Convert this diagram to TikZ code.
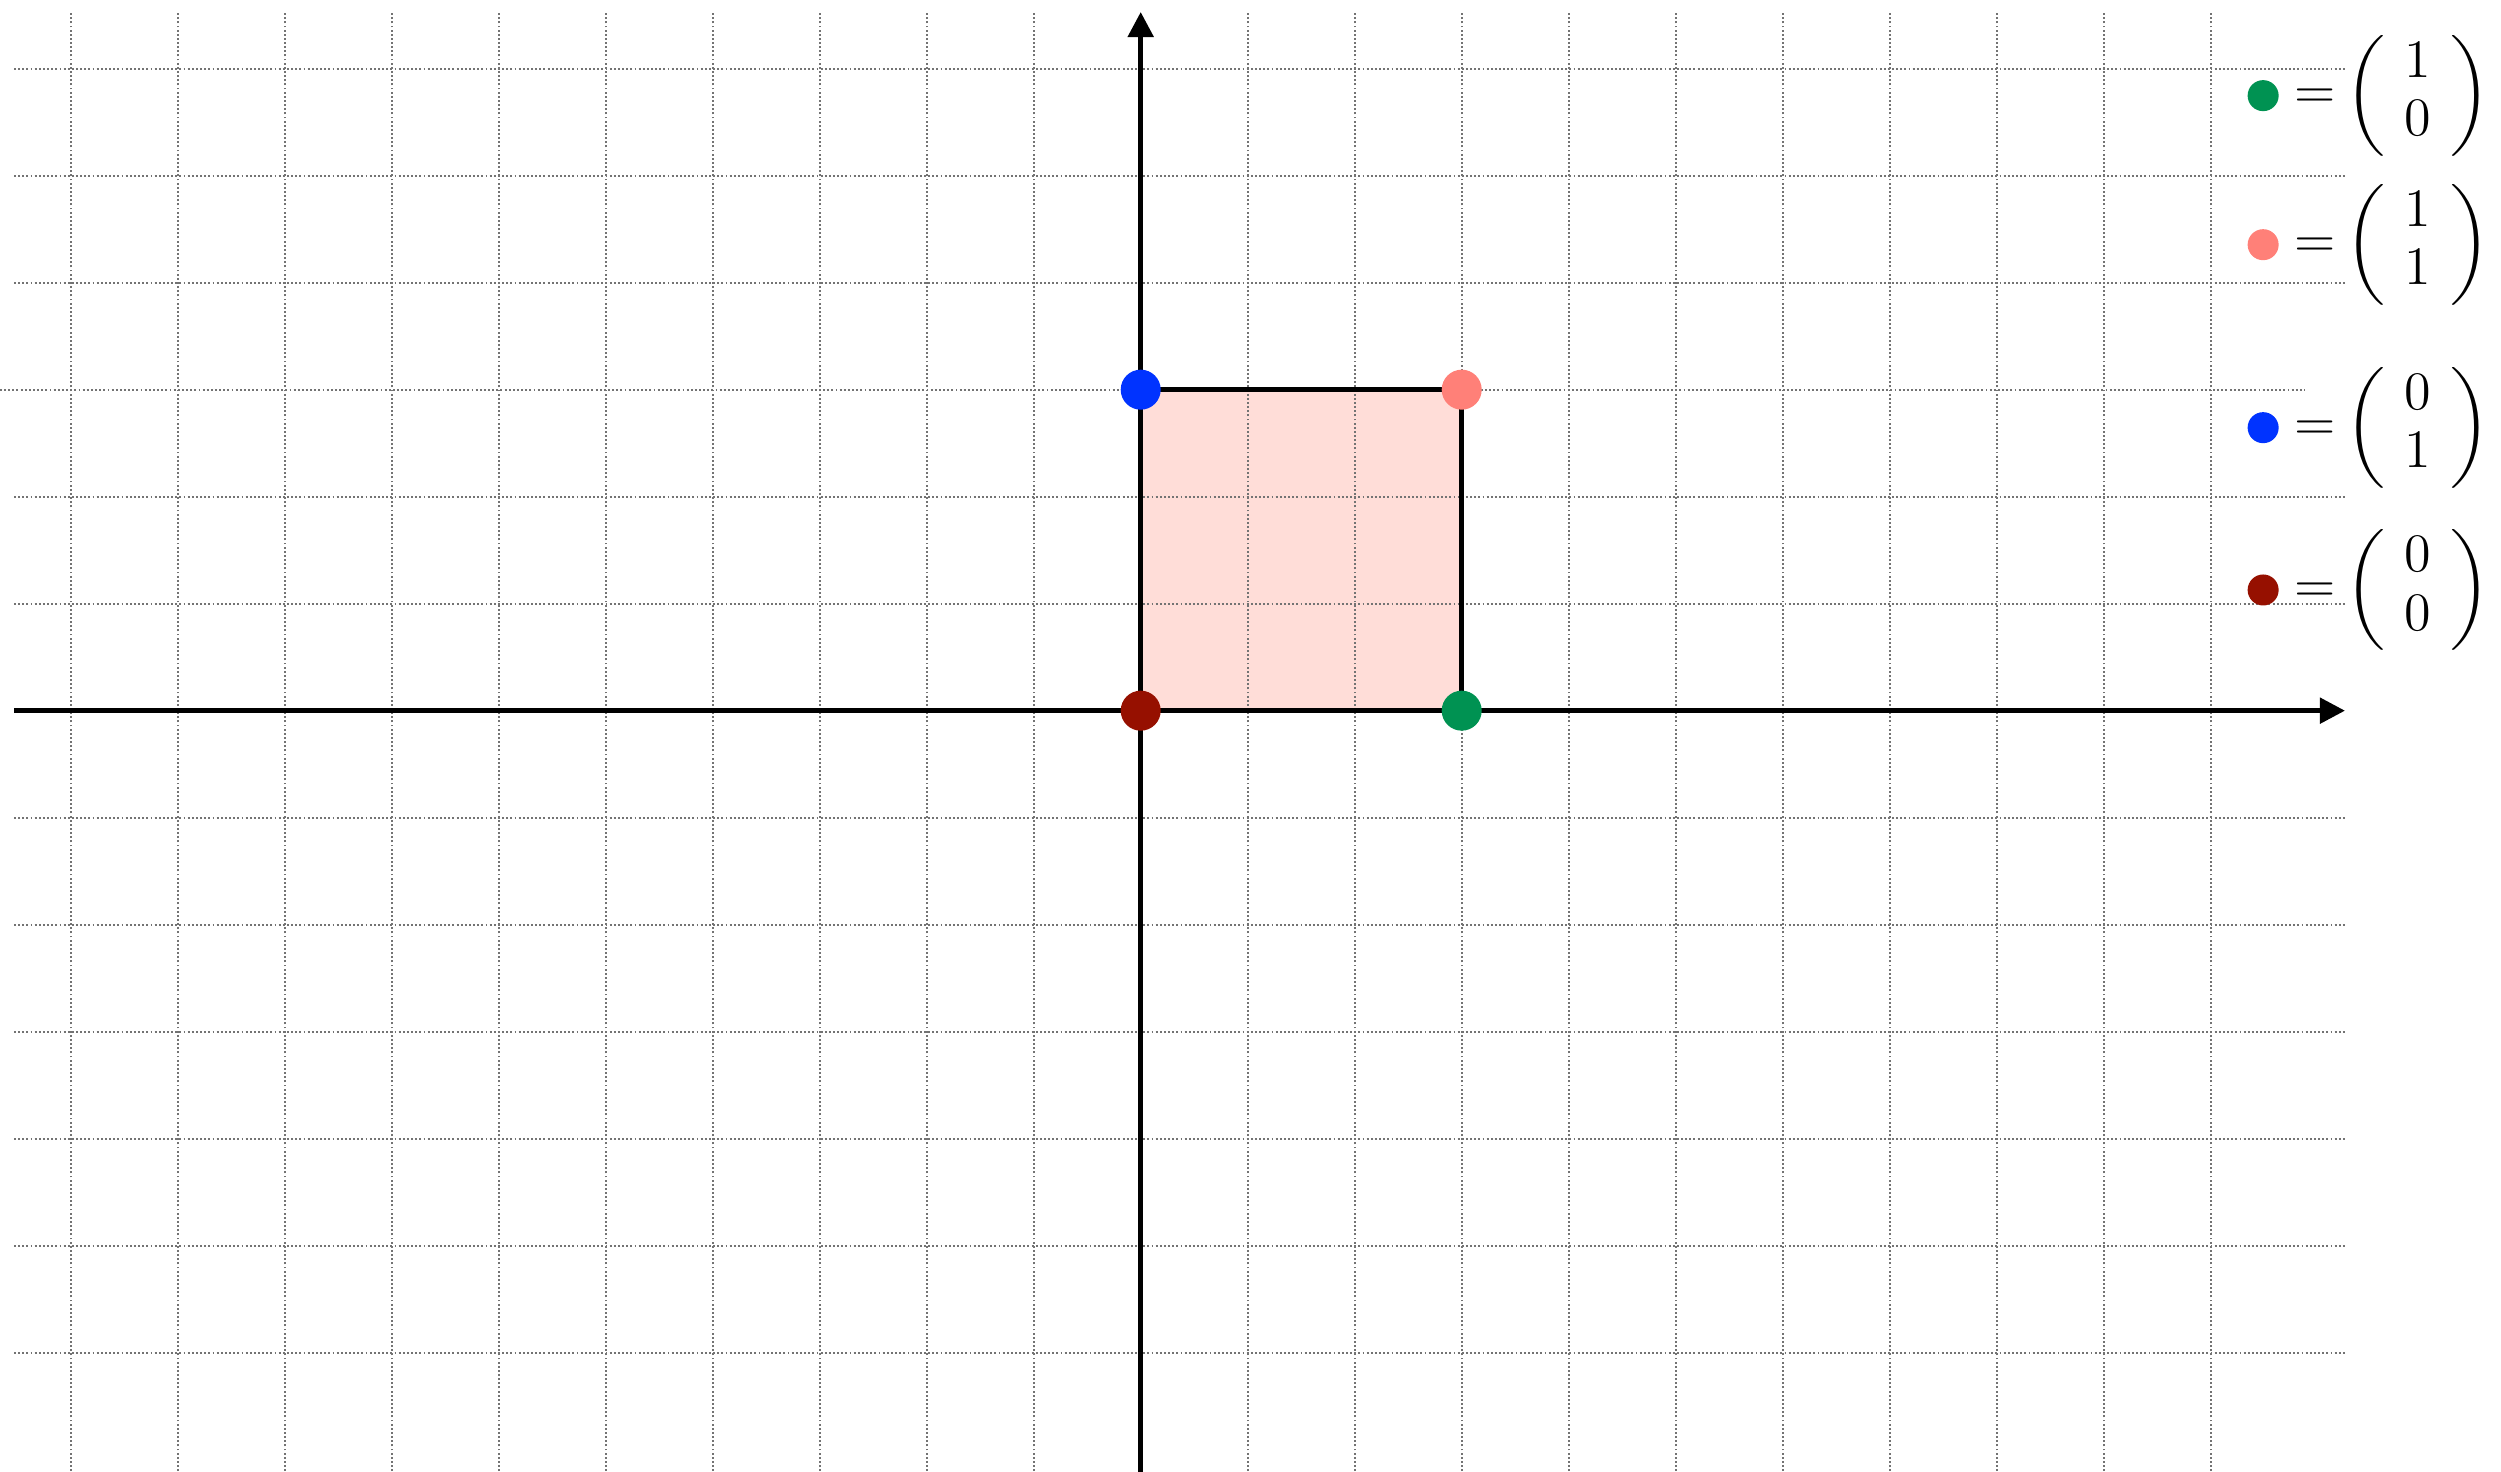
\documentclass[tikz,border=0pt]{standalone}
\usepackage{amsmath}
\usepackage{graphicx}
\usetikzlibrary{arrows.meta}
\definecolor{ptgreen}{RGB}{0,146,82}
\definecolor{ptpink}{RGB}{255,128,120}
\definecolor{ptblue}{RGB}{0,51,255}
\definecolor{ptred}{RGB}{150,16,0}
\definecolor{sqfill}{RGB}{255,221,216}
\tikzset{
  gridline/.style={line width=0.5pt, dash pattern=on 0.5pt off 0.6pt, color=black!55},
  axisline/.style={line width=1.33pt, -{Triangle[length=0.234cm,width=0.234cm]}},
  sqline/.style={line width=1.33pt},
  legtext/.style={anchor=west, inner sep=0pt, font=\fontsize{13.5}{15.6}\selectfont},
}
\newcommand{\lpar}{\mathopen{\scalebox{1}[0.93]{$\biggl($}}}
\newcommand{\rpar}{\mathclose{\scalebox{1}[0.93]{$\biggr)$}}}
\newcommand{\legvec}[2]{\setlength{\arraycolsep}{5.2pt}$=\mskip-2mu\lpar\begin{array}{c}#1\\#2\end{array}\rpar$}
\begin{document}
\begin{tikzpicture}
\useasboundingbox (-10.661,-7.115) rectangle (12.713,6.642);
% square fill
\fill[sqfill] (0,0) rectangle (3,3);
% grid
\foreach \x in {-10,...,-1,1,2,...,10}
  \draw[gridline] (\x,-7.3) -- (\x,6.54);
\foreach \y in {-6,...,-1,1,2,4,5,6}
  \draw[gridline] (-10.53,\y) -- (11.255,\y);
\draw[gridline] (-10.7,3) -- (10.88,3);
% axes
\coordinate (xs) at (-10.53,0);
\coordinate (xe) at (11.255,0);
\coordinate (ys) at (0,-7.3);
\coordinate (ye) at (0,6.53);
\draw[axisline] (xs) -- (xe);
\draw[axisline] (ys) -- (ye);
% square
\coordinate (O) at (0,0);
\coordinate (A) at (3,0);
\coordinate (B) at (3,3);
\coordinate (C) at (0,3);
\draw[sqline] (O) -- (A) -- (B) -- (C) -- cycle;
% corner dots
\fill[ptred] (O) circle (0.187);
\fill[ptgreen] (A) circle (0.187);
\fill[ptpink] (B) circle (0.187);
\fill[ptblue] (C) circle (0.187);
% legend
\fill[ptgreen] (10.49,5.748) circle (0.145);
\node[legtext] (l1) at (10.78,5.748) {\legvec{1}{0}};
\fill[ptpink] (10.49,4.355) circle (0.145);
\node[legtext] (l2) at (10.78,4.355) {\legvec{1}{1}};
\fill[ptblue] (10.49,2.645) circle (0.145);
\node[legtext] (l3) at (10.78,2.645) {\legvec{0}{1}};
\fill[ptred] (10.49,1.128) circle (0.145);
\node[legtext] (l4) at (10.78,1.128) {\legvec{0}{0}};
\end{tikzpicture}
\end{document}
